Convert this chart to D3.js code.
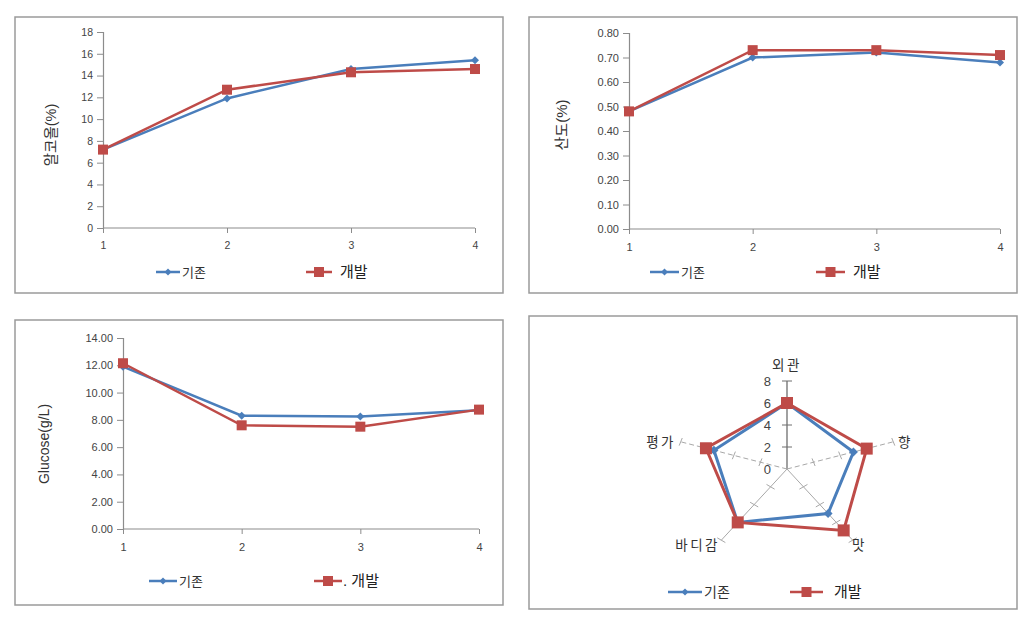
<!DOCTYPE html>
<html><head><meta charset="utf-8">
<script src="https://cdn.jsdelivr.net/npm/d3@7"></script>
<style>
html,body{margin:0;padding:0;background:#fff;}
svg{display:block;}
text{font-family:"Liberation Sans","Noto Sans CJK KR",sans-serif;}
</style></head>
<body>
<svg id="c" width="1029" height="619"></svg>
<script>
// ---- data ----
const xCats = [1, 2, 3, 4];
const seriesNames = ["기존", "개발"];
const alcoholBase = [7.2, 11.9, 14.6, 15.4];
const alcoholDev = [7.2, 12.7, 14.3, 14.6];
const alcoholTicks = [0, 2, 4, 6, 8, 10, 12, 14, 16, 18];
const acidBase = [0.48, 0.70, 0.72, 0.68];
const acidDev = [0.48, 0.73, 0.73, 0.71];
const acidTicks = [0, 0.1, 0.2, 0.3, 0.4, 0.5, 0.6, 0.7, 0.8];
const glucoseBase = [11.9, 8.3, 8.25, 8.7];
const glucoseDev = [12.15, 7.6, 7.5, 8.75];
const glucoseTicks = [0, 2, 4, 6, 8, 10, 12, 14];
const sensoryAttrs = ["외관", "향", "맛", "바디감", "평가"];
const sensoryBase = [6, 5, 5, 6, 5.5];
const sensoryDev = [6, 6, 6.9, 6, 6.1];
const radarTicks = [0, 2, 4, 6, 8];

const BLUE = "#4a7ebb", RED = "#be4b48";
const svg = d3.select("#c");

function panel(x, y, w, h) {
  svg.append("rect").attr("x", x).attr("y", y).attr("width", w).attr("height", h)
    .attr("fill", "#fff").attr("stroke", "#9a9a9a").attr("stroke-width", 1.5);
}
function diamond(g, cx, cy, s) {
  g.append("path").attr("d", `M${cx},${cy - s}L${cx + s},${cy}L${cx},${cy + s}L${cx - s},${cy}Z`).attr("fill", BLUE);
}
function legend(lx1, lx2, ly, bt, bsize, rx1, rx2, ry, rt, rsize, rtx) {
  const g = svg.append("g");
  g.append("line").attr("x1", lx1).attr("x2", lx2).attr("y1", ly).attr("y2", ly).attr("stroke", BLUE).attr("stroke-width", 2.5);
  diamond(g, (lx1 + lx2) / 2, ly, 3.5);
  g.append("text").attr("x", lx2 + 2).attr("y", ly + 5).attr("font-size", bsize).attr("fill", "#333").text(bt);
  g.append("line").attr("x1", rx1).attr("x2", rx2).attr("y1", ry).attr("y2", ry).attr("stroke", RED).attr("stroke-width", 2.5);
  g.append("rect").attr("x", (rx1 + rx2) / 2 - 5).attr("y", ry - 5).attr("width", 10).attr("height", 10).attr("fill", RED);
  g.append("text").attr("x", rtx).attr("y", ry + 5).attr("font-size", rsize).attr("fill", "#222").text(rt);
}

function lineChart(cfg) {
  const x = d3.scalePoint().domain(xCats).range([cfg.x0, cfg.x1]);
  const y = d3.scaleLinear().domain([cfg.ticks[0], cfg.ticks[cfg.ticks.length - 1]]).range([cfg.y0, cfg.y1]);
  const g = svg.append("g");
  const ya = g.append("g").attr("transform", `translate(${cfg.x0},0)`)
    .call(d3.axisLeft(y).tickValues(cfg.ticks).tickFormat(cfg.fmt).tickSize(6).tickPadding(4));
  const xa = g.append("g").attr("transform", `translate(0,${cfg.y0})`)
    .call(d3.axisBottom(x).tickSize(5).tickPadding(9));
  [ya, xa].forEach(a => {
    a.select(".domain").attr("stroke", "#8c8c8c").attr("stroke-width", 1.2);
    a.selectAll(".tick line").attr("stroke", "#8c8c8c");
    a.selectAll(".tick text").attr("fill", "#444").attr("font-size", cfg.tsize || 10.5).attr("font-family", "Liberation Sans, sans-serif");
  });
  xa.select(".domain").attr("d", `M${cfg.x0},0H${cfg.x1}`);
  const ln = d3.line().x((d, i) => x(xCats[i])).y(d => y(d));
  g.append("path").datum(cfg.base).attr("d", ln).attr("fill", "none").attr("stroke", BLUE).attr("stroke-width", 2.5);
  g.append("path").datum(cfg.dev).attr("d", ln).attr("fill", "none").attr("stroke", RED).attr("stroke-width", 2.5);
  cfg.base.forEach((d, i) => diamond(g, x(xCats[i]), y(d), 4));
  cfg.dev.forEach((d, i) => g.append("rect").attr("x", x(xCats[i]) - 5).attr("y", y(d) - 5).attr("width", 10).attr("height", 10).attr("fill", RED));
  g.append("text").attr("transform", `translate(${cfg.lx},${cfg.ly}) rotate(-90)`).attr("text-anchor", "middle")
    .attr("font-size", cfg.lsize).attr("fill", "#333").text(cfg.label);
}

// panel 1
panel(15, 17, 488, 276);
lineChart({x0: 103, x1: 475, y0: 228, y1: 32, ticks: alcoholTicks, fmt: d3.format("d"),
  base: alcoholBase, dev: alcoholDev, label: "알코올(%)", lx: 56, ly: 135, lsize: 14.5, tsize: 10.5});
legend(156, 180, 272, seriesNames[0], 13, 306, 332, 272, seriesNames[1], 15, 340);

// panel 2
panel(529, 17, 488, 276);
lineChart({x0: 629, x1: 1000, y0: 229, y1: 33, ticks: acidTicks, fmt: d3.format(".2f"),
  base: acidBase, dev: acidDev, label: "산도(%)", lx: 567, ly: 125, lsize: 15, tsize: 11});
legend(650, 679, 272, seriesNames[0], 13, 816, 845, 272, seriesNames[1], 15, 853);

// panel 3
panel(15, 320, 488, 285);
lineChart({x0: 123, x1: 479, y0: 529, y1: 338, ticks: glucoseTicks, fmt: d3.format(".2f"),
  base: glucoseBase, dev: glucoseDev, label: "Glucose(g/L)", lx: 49, ly: 444, lsize: 14, tsize: 11});
legend(149, 177, 581, seriesNames[0], 13, 314, 342, 581, ". " + seriesNames[1], 15, 343);

// panel 4 radar
panel(529, 316, 488, 293);
(function () {
  const cx = 787, cy = 469, sx = 1.27;
  const r = d3.scaleLinear().domain([0, 8]).range([0, 88]);
  const ang = d3.scaleLinear().domain([0, sensoryAttrs.length]).range([-Math.PI / 2, 1.5 * Math.PI]);
  const pt = (i, v) => [cx + Math.cos(ang(i)) * r(v) * sx, cy + Math.sin(ang(i)) * r(v)];
  const g = svg.append("g");
  sensoryAttrs.forEach((a, i) => {
    const e = pt(i, 8);
    g.append("line").attr("x1", cx).attr("y1", cy).attr("x2", e[0]).attr("y2", e[1])
      .attr("stroke", i === 0 ? "#6e6e6e" : "#a8a8a8").attr("stroke-width", i === 0 ? 1.3 : 1)
      .attr("stroke-dasharray", (i === 1 || i === 4) ? "5,3" : null);
    radarTicks.slice(1).forEach(t => {
      const p = pt(i, t);
      const dx = -Math.sin(ang(i)), dy = Math.cos(ang(i));
      g.append("line").attr("x1", p[0] - dx * 5).attr("y1", p[1] - dy * 4).attr("x2", p[0] + dx * 5).attr("y2", p[1] + dy * 4)
        .attr("stroke", i === 0 ? "#6e6e6e" : "#a8a8a8").attr("stroke-width", 1);
    });
  });
  radarTicks.forEach(t => {
    const p = pt(0, t);
    g.append("text").attr("x", p[0] - 16).attr("y", p[1] + 5).attr("text-anchor", "end").attr("font-size", 13).attr("fill", "#444").text(t);
  });
  const labelPos = [[787, 370, "middle"], [898, 447, "start"], [852, 550, "start"], [720, 550, "end"], [676, 447, "end"]];
  sensoryAttrs.forEach((a, i) => {
    g.append("text").attr("x", labelPos[i][0]).attr("y", labelPos[i][1]).attr("text-anchor", labelPos[i][2])
      .attr("font-size", 13.5).attr("letter-spacing", 2.5).attr("fill", "#333").text(a);
  });
  const ln = d3.line().x(d => d[0]).y(d => d[1]).curve(d3.curveLinearClosed);
  const bp = sensoryBase.map((v, i) => pt(i, v));
  const dp = sensoryDev.map((v, i) => pt(i, v));
  g.append("path").attr("d", ln(bp)).attr("fill", "none").attr("stroke", BLUE).attr("stroke-width", 3);
  g.append("path").attr("d", ln(dp)).attr("fill", "none").attr("stroke", RED).attr("stroke-width", 3);
  bp.forEach(p => diamond(g, p[0], p[1], 4.5));
  dp.forEach(p => g.append("rect").attr("x", p[0] - 6).attr("y", p[1] - 6).attr("width", 12).attr("height", 12).attr("fill", RED));
})();
legend(668, 702, 592, seriesNames[0], 14, 790, 823, 592, seriesNames[1], 15, 834);
</script>
</body></html>
